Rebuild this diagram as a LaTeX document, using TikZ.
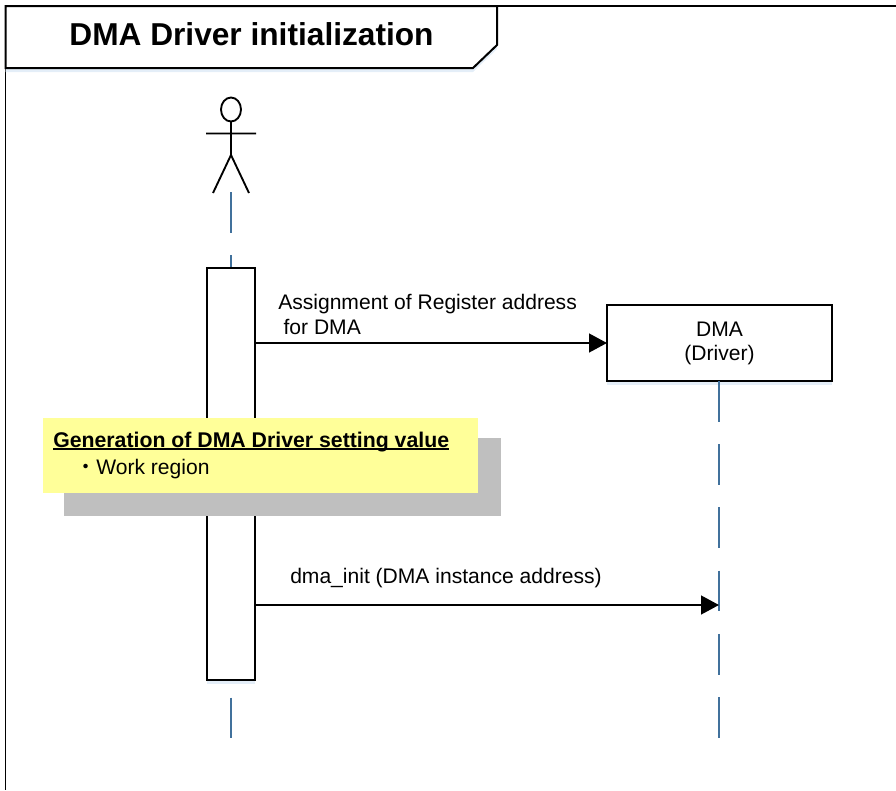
\documentclass[tikz,border=0pt]{standalone}
\usepackage{fontspec}
\setmainfont{Liberation Sans}
\newfontfamily\cjkfont{Noto Sans CJK JP}
\usetikzlibrary{arrows.meta,shadows,calc}
\definecolor{lifeblue}{HTML}{41719C}
\definecolor{noteyellow}{HTML}{FFFF99}
\definecolor{notegray}{HTML}{BFBFBF}
\definecolor{softblue}{HTML}{E4EEF8}
\newcommand\thickul[1]{\setbox0\hbox{#1}\rlap{\rule[-2.4pt]{\wd0}{1.3pt}}\box0}
\tikzset{
  x=0.75pt,y=-0.75pt,
  soft/.style={drop shadow={shadow xshift=0pt,shadow yshift=-3pt,fill=softblue,opacity=1}},
  boxline/.style={draw=black,line width=1.5pt,fill=white,outer sep=0pt},
  lifeline/.style={draw=lifeblue,line width=2pt,dash pattern=on 30.6pt off 16.8pt},
  msg/.style={draw=black,line width=1.9pt,-{Triangle[length=13.5pt,width=14pt]}},
  label/.style={inner sep=0pt,font=\fontsize{15.8pt}{18.6pt}\selectfont},
  actorline/.style={draw=black,line width=1.4pt},
}
\begin{document}
\begin{tikzpicture}
\useasboundingbox (0,0) rectangle (896,790);
% frame
\draw[line width=1.4pt,draw=black] (896,6) -- (5.5,6) -- (5.5,790);
\draw[boxline,soft] (5.5,6) -- (497,6) -- (497,45) -- (473,68) -- (5.5,68) -- cycle;
\node[inner sep=0pt,font=\fontsize{23.75pt}{28pt}\bfseries\selectfont] (title) at (251.5,34) {DMA Driver initialization};
% lifelines
\coordinate (lifeAtop) at (231,192);
\coordinate (lifeAbot) at (231,740);
\coordinate (lifeBbot) at (719,738);
\coordinate (lifeBhit) at (719,605);
\draw[lifeline] (lifeAtop) -- (lifeAbot);
% actor
\draw[actorline,fill=white] (231,109.5) ellipse (10 and 12);
\draw[actorline] (231,122) -- (231,155) (206,133.5) -- (256,133.5) (213,193) -- (231,155) -- (249,193);
% activation
\node[boxline,soft,minimum width=36pt,minimum height=309pt,inner sep=0pt,anchor=north west] (act) at (207,268) {};
% DMA box
\node[boxline,soft,minimum width=168.75pt,minimum height=57pt,inner sep=0pt,anchor=north west,align=center,font=\fontsize{15.8pt}{18pt}\selectfont] (dma) at (607,305) {DMA\\(Driver)};
\draw[lifeline] (dma.south -| lifeBbot) -- (lifeBbot);
% note
\node[fill=notegray,minimum width=327.75pt,minimum height=58pt,inner sep=0pt,anchor=north west] (noteshadow) at (64,438) {};
\node[fill=noteyellow,minimum width=326.25pt,minimum height=56.25pt,inner sep=0pt,anchor=north west] (note) at (43,418) {};
\node[label,anchor=base west,font=\fontsize{15.95pt}{18pt}\bfseries\selectfont] (notetitle) at (53,447) {\thickul{Generation of DMA Driver setting value}};
\node[label,anchor=base west] (noteitem) at (75,474.5) {{\cjkfont ・}Work region};
% messages
\coordinate (m1) at (act.east |- 0,343);
\coordinate (m2) at (act.east |- 0,605);
\draw[msg] (m1) -- (m1 -| dma.west);
\draw[msg] (m2) -- (lifeBhit);
\node[label,anchor=west,align=left] (l1) at (278,314.5) {Assignment of Register address\\\hspace{4pt}for DMA};
\node[label,anchor=west] (l2) at (290,578.5) {dma\_init (DMA instance address)};
\end{tikzpicture}
\end{document}
